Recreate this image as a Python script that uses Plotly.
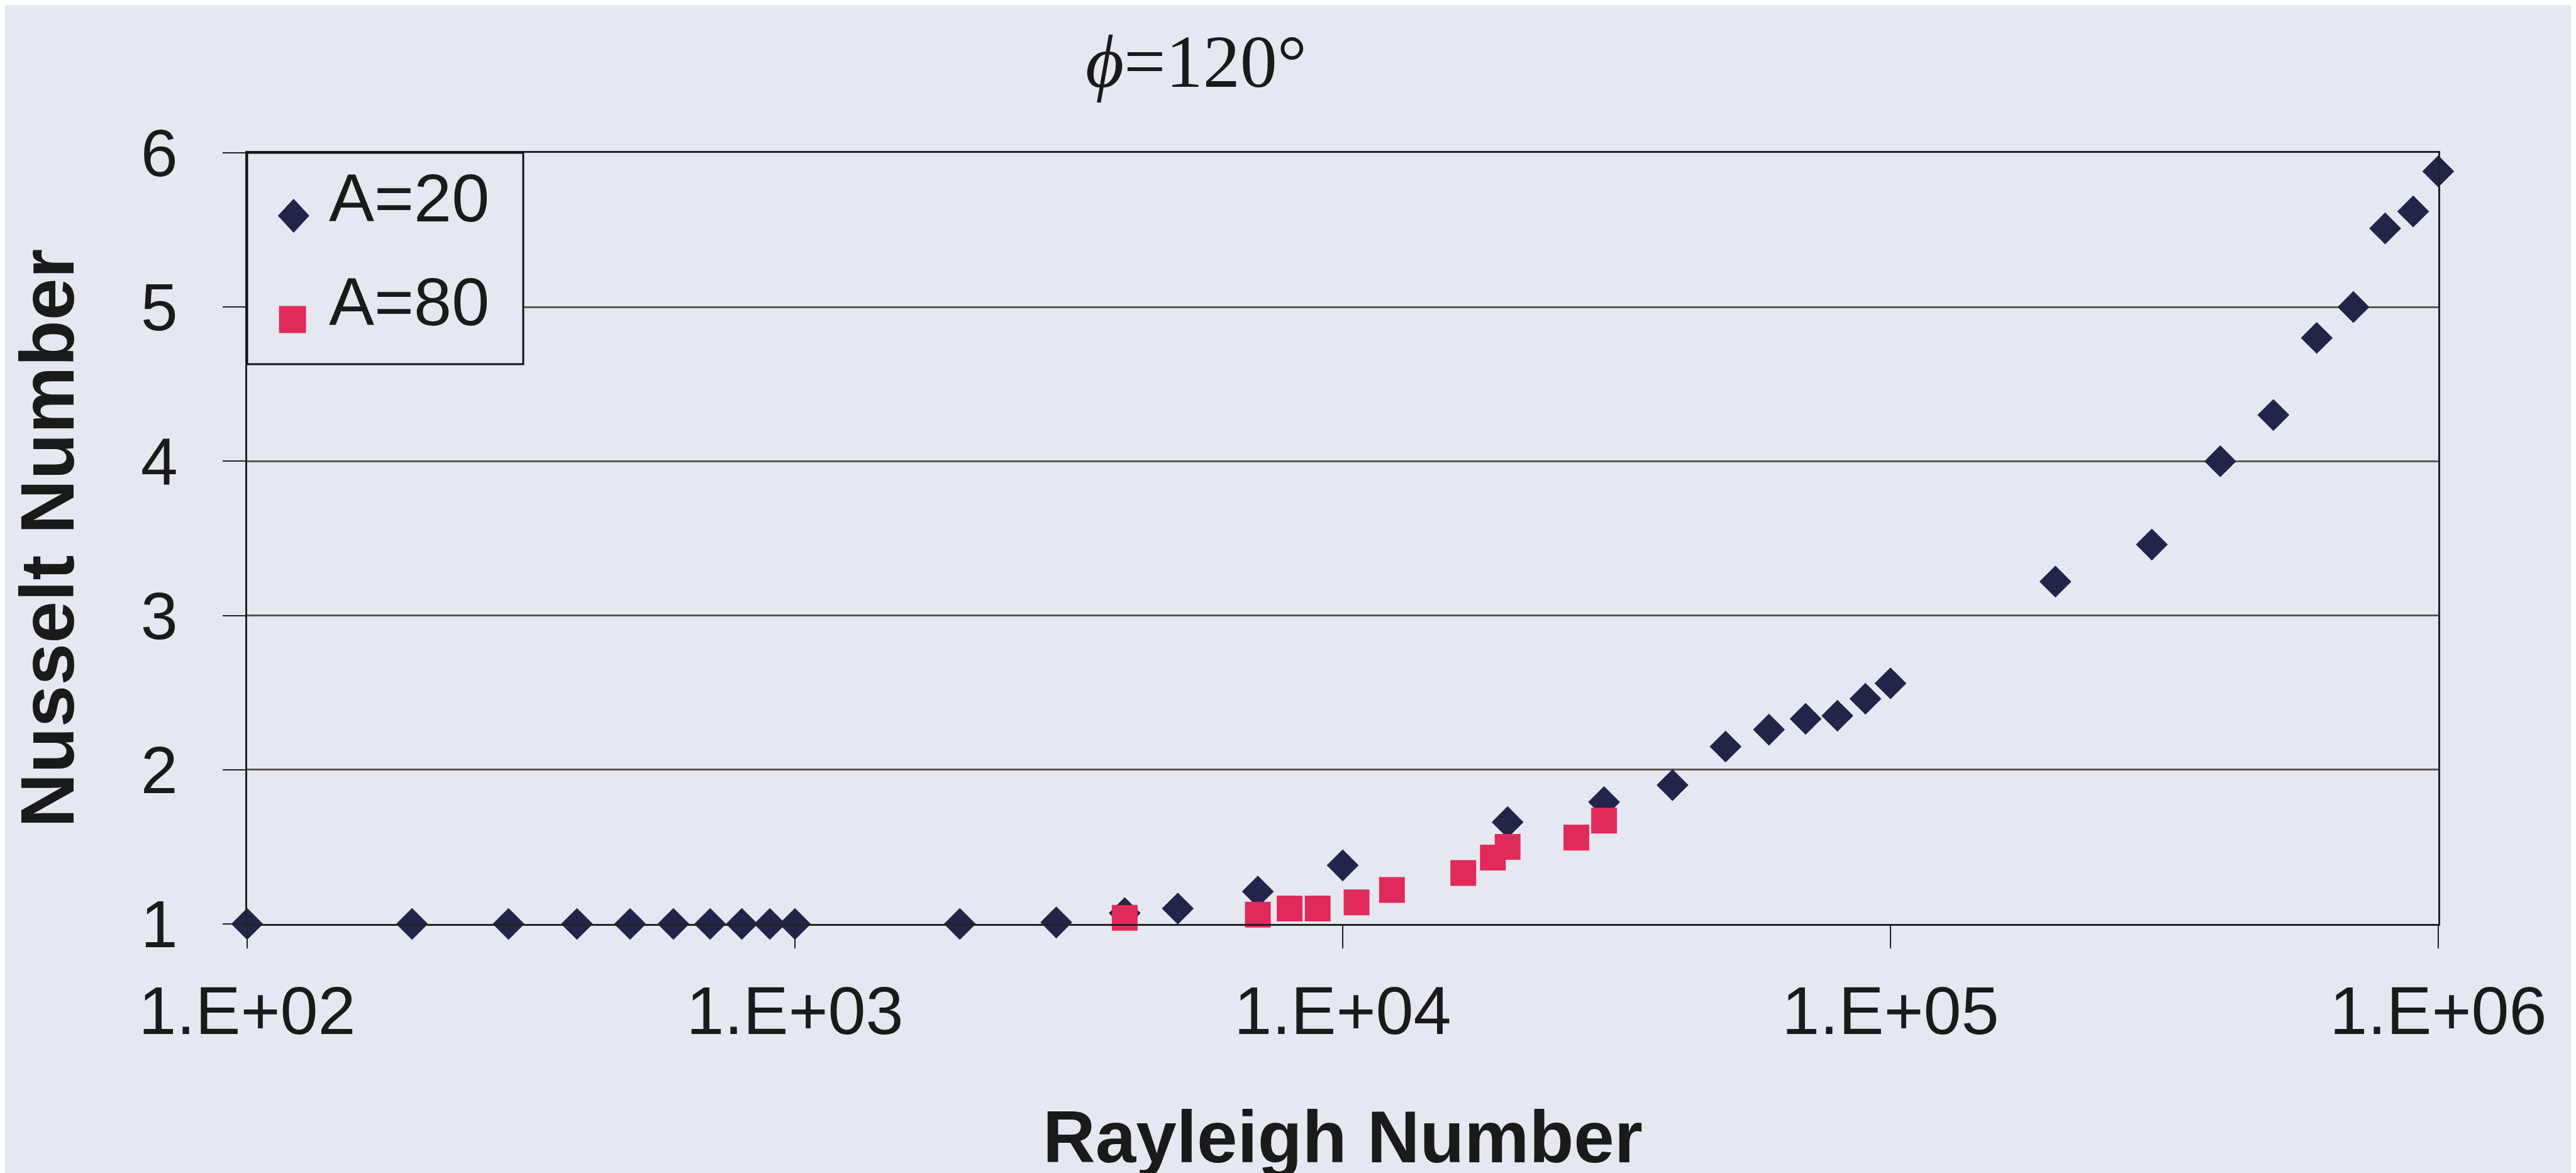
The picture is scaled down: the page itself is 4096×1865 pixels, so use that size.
import plotly.graph_objects as go

# ---- data ----
a20_ra = [100, 200, 300, 400, 500, 600, 700, 800, 900, 1000,
          2000, 3000, 4000, 5000, 7000, 10000, 20000, 30000, 40000, 50000,
          60000, 70000, 80000, 90000, 100000, 200000, 300000, 400000, 500000,
          600000, 700000, 800000, 900000, 1000000]
a20_nu = [1.0, 1.0, 1.0, 1.0, 1.0, 1.0, 1.0, 1.0, 1.0, 1.0,
          1.0, 1.01, 1.07, 1.10, 1.21, 1.38, 1.66, 1.79, 1.90, 2.15,
          2.26, 2.33, 2.35, 2.46, 2.56, 3.22, 3.46, 4.0, 4.3,
          4.8, 5.0, 5.51, 5.62, 5.88]

a80_ra = [4000, 7000, 8000, 9000, 10600, 12300, 16600, 18800, 20000, 26700, 30000]
a80_nu = [1.04, 1.06, 1.10, 1.10, 1.14, 1.22, 1.33, 1.43, 1.50, 1.56, 1.67]

x_tickvals = [100, 1000, 10000, 100000, 1000000]
x_ticktext = ["1.E+02", "1.E+03", "1.E+04", "1.E+05", "1.E+06"]
y_tickvals = [1, 2, 3, 4, 5, 6]
y_ticktext = ["1", "2", "3", "4", "5", "6"]

series_names = ["A=20", "A=80"]
title_text = "<i>ϕ</i>=120°"
x_title = "Rayleigh Number"
y_title = "Nusselt Number"

BG = "#e5e8f0"
NAVY = "#22244a"
CRIMSON = "#e02a5a"
GRID = "#5a5650"
INK = "#1a1a1a"
SANS = "Liberation Sans, Arial, sans-serif"
SERIF = "Liberation Serif, Times New Roman, serif"

fig = go.Figure()
# data series
fig.add_trace(go.Scatter(
    x=a20_ra, y=a20_nu, mode="markers", name=series_names[0],
    legendgroup="g1", showlegend=False,
    marker=dict(symbol="diamond", size=39, color=NAVY, line=dict(width=0)),
    cliponaxis=False,
))
fig.add_trace(go.Scatter(
    x=a80_ra, y=a80_nu, mode="markers", name=series_names[1],
    legendgroup="g2", showlegend=False,
    marker=dict(symbol="square", size=41, color=CRIMSON, line=dict(width=0)),
    cliponaxis=False,
))
# legend entries (plotly caps legend symbols at 16 px, so the symbols are drawn as shapes)
fig.add_trace(go.Scatter(
    x=[None], y=[None], mode="markers", name=series_names[0], legendgroup="g1",
    marker=dict(symbol="diamond", size=16, color="rgba(0,0,0,0)"), hoverinfo="skip",
))
fig.add_trace(go.Scatter(
    x=[None], y=[None], mode="markers", name=series_names[1], legendgroup="g2",
    marker=dict(symbol="square", size=16, color="rgba(0,0,0,0)"), hoverinfo="skip",
))

legend_shapes = [
    dict(type="rect", xref="paper", yref="paper", x0=0.0, x1=0.126, y0=0.726, y1=1.0,
         fillcolor=BG, line=dict(color="#111111", width=3), layer="above"),
    dict(type="path", xref="paper", yref="paper", xsizemode="pixel", ysizemode="pixel",
         xanchor=0.0212, yanchor=0.9184,
         path="M 0,27 L 25,0 L 0,-27 L -25,0 Z",
         fillcolor=NAVY, line=dict(width=0), layer="above"),
    dict(type="rect", xref="paper", yref="paper", xsizemode="pixel", ysizemode="pixel",
         xanchor=0.0207, yanchor=0.7838, x0=-21.5, x1=21.5, y0=-21.5, y1=21.5,
         fillcolor=CRIMSON, line=dict(width=0), layer="above"),
]

fig.update_layout(
    width=4096, height=1865,
    paper_bgcolor=BG, plot_bgcolor=BG,
    margin=dict(l=385, r=227, t=235, b=404, autoexpand=False),
    font=dict(family=SANS, color=INK),
    showlegend=True,
    legend=dict(
        x=0, y=1.008, xanchor="left", yanchor="top",
        bgcolor="rgba(0,0,0,0)", borderwidth=0,
        font=dict(family=SANS, size=108, color=INK),
        itemwidth=120, tracegroupgap=22,
    ),
    shapes=legend_shapes,
    annotations=[dict(
        text=title_text, xref="paper", yref="paper",
        x=0.433, y=1.0, yshift=145, xanchor="center", yanchor="middle",
        showarrow=False, font=dict(family=SERIF, size=118, color=INK),
    )],
)

fig.update_xaxes(
    type="log", range=[2, 6],
    tickvals=x_tickvals, ticktext=x_ticktext,
    tickfont=dict(family=SANS, size=108, color=INK),
    ticks="outside", ticklen=36, tickwidth=2, tickcolor="#222222",
    ticklabelstandoff=6,
    showgrid=False, zeroline=False,
    showline=True, linecolor="#222222", linewidth=3, mirror=True,
    title=dict(text="<b>" + x_title + "</b>",
               font=dict(family=SANS, size=116, color=INK), standoff=130),
)
fig.update_yaxes(
    range=[1, 6],
    tickvals=y_tickvals, ticktext=y_ticktext,
    tickfont=dict(family=SANS, size=106, color=INK),
    ticks="outside", ticklen=36, tickwidth=2, tickcolor="#222222",
    ticklabelstandoff=50,
    showgrid=True, gridcolor=GRID, gridwidth=3, zeroline=False,
    showline=True, linecolor="#222222", linewidth=3, mirror=True,
    title=dict(text="<b>" + y_title + "</b>",
               font=dict(family=SANS, size=120, color=INK), standoff=100),
)

fig.write_html("out.html")
